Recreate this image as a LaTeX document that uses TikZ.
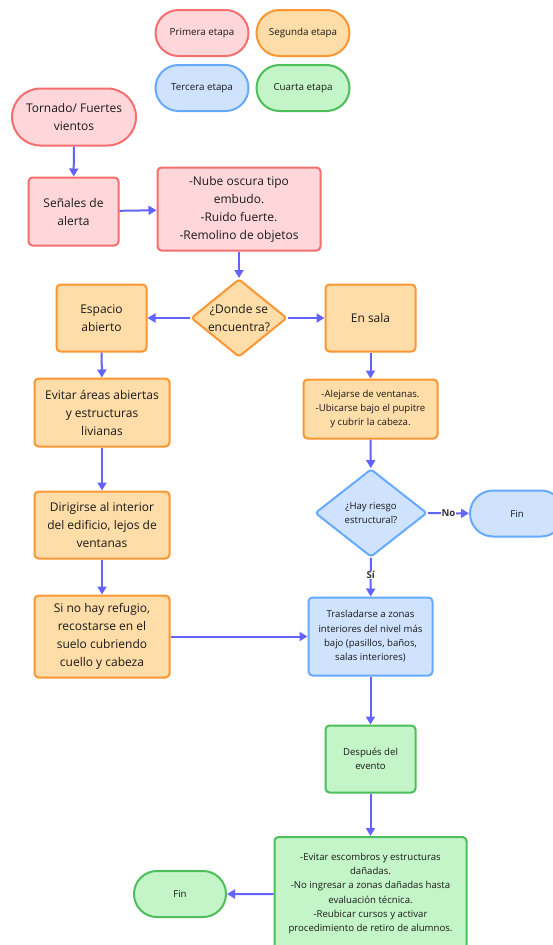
\documentclass[tikz,border=0pt]{standalone}
\usepackage{fontspec}
\setmainfont{Open Sans}
\usetikzlibrary{shapes.geometric,shapes.misc,arrows.meta}
\definecolor{redf}{HTML}{FFD7DA}
\definecolor{redd}{HTML}{F56E6E}
\definecolor{oraf}{HTML}{FFDDA8}
\definecolor{orad}{HTML}{FB9632}
\definecolor{bluf}{HTML}{CFE3FF}
\definecolor{blud}{HTML}{66AAFF}
\definecolor{gref}{HTML}{C4F5C8}
\definecolor{gred}{HTML}{4CBF5A}
\definecolor{arr}{HTML}{6363FF}
\tikzset{
  base/.style={line width=2pt, align=center, inner sep=0pt, text=black!90},
  big/.style={font=\fontsize{12}{18}\selectfont},
  small/.style={font=\fontsize{9.6}{14.3}\selectfont},
  tiny/.style={font=\fontsize{9.8}{12}\selectfont},
  box/.style={base, rectangle, rounded corners=4pt},
  pill/.style={base, rounded rectangle},
  dia/.style={base, diamond, rounded corners=3pt},
  red/.style={fill=redf, draw=redd},
  ora/.style={fill=oraf, draw=orad},
  blu/.style={fill=bluf, draw=blud},
  gre/.style={fill=gref, draw=gred},
  conn/.style={draw=arr, line width=2pt, -{Triangle[length=8pt,width=9pt]}},
  lbl/.style={font=\fontsize{9.6}{12}\selectfont\bfseries, text=black!80, fill=white, inner sep=0.5pt}
}
\begin{document}
\begin{tikzpicture}[x=1pt,y=-1pt]
\useasboundingbox (0,0) rectangle (552,945);
% legend
\node[pill,red,tiny,minimum width=93pt,minimum height=46pt] (l1) at (202,33) {Primera etapa};
\node[pill,ora,tiny,minimum width=93pt,minimum height=46pt] (l2) at (303,33) {Segunda etapa};
\node[pill,blu,tiny,minimum width=93pt,minimum height=46pt] (l3) at (202,88) {Tercera etapa};
\node[pill,gre,tiny,minimum width=93pt,minimum height=46pt] (l4) at (303,88) {Cuarta etapa};
% first stage
\node[pill,red,big,minimum width=124pt,minimum height=57pt] (tor) at (74,117) {Tornado/ Fuertes\\vientos};
\node[box,red,big,minimum width=90pt,minimum height=68pt] (sen) at (73.5,211.5) {Señales de\\alerta};
\node[box,red,big,minimum width=163pt,minimum height=83pt] (nub) at (239,209) {-Nube oscura tipo\\embudo.\\-Ruido fuerte.\\-Remolino de objetos};
% second stage
\node[dia,ora,minimum width=96pt,minimum height=78pt,label={[big,text=black!90,align=center]center:{¿Donde se\\encuentra?}}] (don) at (239,318) {};
\node[box,ora,big,minimum width=90pt,minimum height=67pt] (esp) at (101.5,318) {Espacio\\abierto};
\node[box,ora,big,minimum width=90pt,minimum height=67pt] (sal) at (370.5,318) {En sala};
\node[box,ora,big,minimum width=135pt,minimum height=68pt] (evi) at (102,412.5) {Evitar áreas abiertas\\y estructuras\\livianas};
\node[box,ora,small,minimum width=134pt,minimum height=59pt] (ale) at (370.5,409) {-Alejarse de ventanas.\\-Ubicarse bajo el pupitre\\y cubrir la cabeza.};
\node[box,ora,big,minimum width=135pt,minimum height=67pt] (dir) at (102,525) {Dirigirse al interior\\del edificio, lejos de\\ventanas};
\node[box,ora,big,minimum width=135pt,minimum height=82pt] (sin) at (102,636.5) {Si no hay refugio,\\recostarse en el\\suelo cubriendo\\cuello y cabeza};
% third stage
\node[dia,blu,minimum width=112pt,minimum height=88pt,label={[small,text=black!90,align=center]center:{¿Hay riesgo\\estructural?}}] (hay) at (371,513) {};
\node[pill,blu,small,minimum width=94pt,minimum height=46pt] (fin1) at (517,513.5) {Fin};
\node[box,blu,small,minimum width=124pt,minimum height=78pt] (tra) at (370.5,636.5) {Trasladarse a zonas\\interiores del nivel más\\bajo (pasillos, baños,\\salas interiores)};
% fourth stage
\node[box,gre,small,minimum width=90pt,minimum height=67pt] (des) at (370.5,759) {Después del\\evento};
\node[box,gre,small,minimum width=192pt,minimum height=113pt] (fin) at (370.5,893.5) {-Evitar escombros y estructuras\\dañadas.\\-No ingresar a zonas dañadas hasta\\evaluación técnica.\\-Reubicar cursos y activar\\procedimiento de retiro de alumnos.};
\node[pill,gre,small,minimum width=92pt,minimum height=46pt] (fin2) at (180,894) {Fin};
% connectors
\draw[conn] (tor) -- (sen);
\draw[conn] (sen) -- (nub);
\draw[conn] (nub) -- (don);
\draw[conn] (don) -- (esp);
\draw[conn] (don) -- (sal);
\draw[conn] (esp) -- (evi);
\draw[conn] (sal) -- (ale);
\draw[conn] (evi) -- (dir);
\draw[conn] (dir) -- (sin);
\draw[conn] (ale) -- (hay);
\draw[conn] (hay) -- node[lbl,pos=0.5]{No} (fin1);
\draw[conn] (hay) -- node[lbl,pos=0.45]{Sí} (tra);
\draw[conn] (sin) -- (tra);
\draw[conn] (tra) -- (des);
\draw[conn] (des) -- (fin);
\draw[conn] (fin.west |- fin2) -- (fin2);
\end{tikzpicture}
\end{document}
